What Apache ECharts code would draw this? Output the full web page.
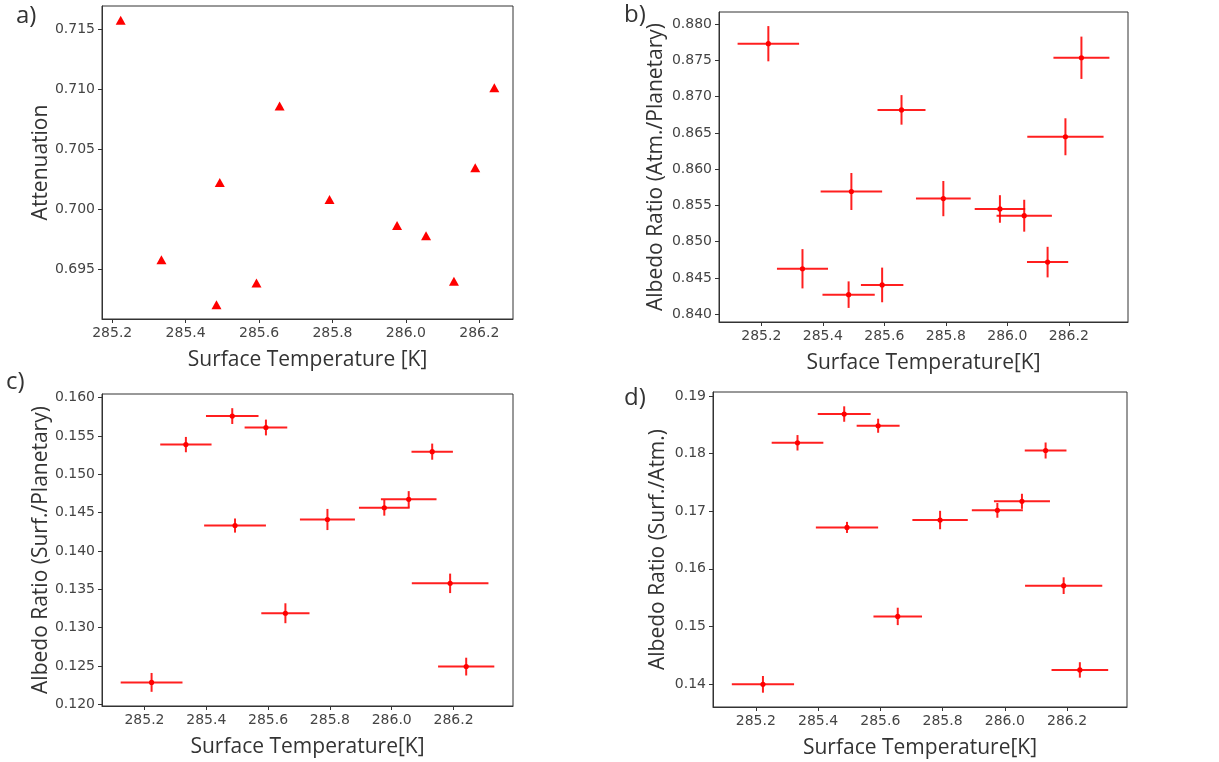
<!DOCTYPE html>
<html>
<head>
<meta charset="utf-8">
<script src="https://cdn.jsdelivr.net/npm/echarts@6.0.0/dist/echarts.min.js"></script>
<style>
html,body{margin:0;padding:0;background:#fff;}
#chart{width:1219px;height:762px;}
</style>
</head>
<body>
<div id="chart"></div>
<script>
// ---- data ----
const temps = [285.223, 285.334, 285.484, 285.493, 285.593, 285.656, 285.792, 285.976, 286.055, 286.131, 286.189, 286.241];
const tempErr = [0.100, 0.083, 0.085, 0.100, 0.069, 0.078, 0.089, 0.082, 0.090, 0.067, 0.124, 0.091];

const attenuation = [0.71575, 0.69583, 0.69208, 0.70225, 0.69389, 0.70861, 0.70083, 0.69867, 0.69783, 0.69403, 0.70347, 0.71014];

const ratioAtmPlan = [0.87731, 0.84626, 0.84269, 0.85692, 0.84403, 0.86818, 0.85594, 0.85451, 0.85358, 0.84718, 0.86447, 0.87537];
const ratioAtmPlanErr = [0.00243, 0.00271, 0.00183, 0.00255, 0.00239, 0.00204, 0.00243, 0.00190, 0.00220, 0.00211, 0.00255, 0.00292];

const ratioSurfPlan = [0.12285, 0.15387, 0.15759, 0.14331, 0.15610, 0.13187, 0.14410, 0.14563, 0.14673, 0.15295, 0.13577, 0.12491];
const ratioSurfPlanErr = [0.00123, 0.00100, 0.00103, 0.00092, 0.00103, 0.00130, 0.00138, 0.00103, 0.00107, 0.00105, 0.00127, 0.00116];

const ratioSurfAtm = [0.13994, 0.18187, 0.18686, 0.16718, 0.18483, 0.15173, 0.16846, 0.17014, 0.17171, 0.18053, 0.15707, 0.14244];
const ratioSurfAtmErr = [0.00145, 0.00134, 0.00134, 0.00096, 0.00122, 0.00151, 0.00160, 0.00128, 0.00131, 0.00139, 0.00145, 0.00134];

const xTicks = [285.2, 285.4, 285.6, 285.8, 286.0, 286.2];
const yTicksA = [0.695, 0.700, 0.705, 0.710, 0.715];
const yTicksB = [0.840, 0.845, 0.850, 0.855, 0.860, 0.865, 0.870, 0.875, 0.880];
const yTicksC = [0.120, 0.125, 0.130, 0.135, 0.140, 0.145, 0.150, 0.155, 0.160];
const yTicksD = [0.14, 0.15, 0.16, 0.17, 0.18, 0.19];

const panelLabels = ['a)', 'b)', 'c)', 'd)'];
const xTitleA = 'Surface Temperature [K]';
const xTitleBCD = 'Surface Temperature[K]';
const yTitles = ['Attenuation', 'Albedo Ratio (Atm./Planetary)', 'Albedo Ratio (Surf./Planetary)', 'Albedo Ratio (Surf./Atm.)'];

// ---- helpers ----
function padRange(lo, hi) { const m = (hi - lo) * 0.05; return [lo - m, hi + m]; }
function extent(vals, errs) {
  let lo = Infinity, hi = -Infinity;
  vals.forEach((v, i) => { const e = errs ? errs[i] : 0; lo = Math.min(lo, v - e); hi = Math.max(hi, v + e); });
  return padRange(lo, hi);
}

const tickColor = '#333';
const labelFont = { fontFamily: 'DejaVu Sans', fontSize: 14, color: '#444' };
const titleFont = { fontFamily: 'Open Sans', fontSize: 21, color: '#333' };

function xAxis(gi, range, name) {
  return {
    type: 'value', gridIndex: gi, min: range[0], max: range[1],
    name: name, nameLocation: 'middle', nameGap: 31, nameTextStyle: titleFont,
    axisLine: { show: true, onZero: false, lineStyle: { color: tickColor, width: 1 } },
    axisTick: { show: true, length: 4, inside: false, customValues: xTicks, lineStyle: { color: tickColor } },
    axisLabel: Object.assign({ margin: 7, customValues: xTicks, formatter: v => v.toFixed(1) }, labelFont),
    splitLine: { show: false }
  };
}
function yAxis(gi, range, ticks, dec, name, gap) {
  return {
    type: 'value', gridIndex: gi, min: range[0], max: range[1],
    name: name, nameLocation: 'middle', nameGap: gap, nameTextStyle: titleFont,
    axisLine: { show: true, onZero: false, lineStyle: { color: tickColor, width: 1 } },
    axisTick: { show: true, length: 4, inside: false, customValues: ticks, lineStyle: { color: tickColor } },
    axisLabel: Object.assign({ margin: 7, customValues: ticks, formatter: v => v.toFixed(dec) }, labelFont),
    splitLine: { show: false }
  };
}

function errSeries(gi, ys, yerrs) {
  const data = temps.map((t, i) => [t, ys[i], tempErr[i], yerrs[i]]);
  return {
    type: 'custom', xAxisIndex: gi, yAxisIndex: gi, data: data,
    encode: { x: 0, y: 1 },
    renderItem: function (params, api) {
      const x = api.value(0), y = api.value(1), xe = api.value(2), ye = api.value(3);
      const l = api.coord([x - xe, y]), r = api.coord([x + xe, y]);
      const t = api.coord([x, y + ye]), b = api.coord([x, y - ye]);
      const c = api.coord([x, y]);
      const st = { stroke: 'rgba(255,0,0,0.88)', lineWidth: 2 };
      return {
        type: 'group',
        children: [
          { type: 'line', shape: { x1: l[0], y1: l[1], x2: r[0], y2: r[1] }, style: st },
          { type: 'line', shape: { x1: t[0], y1: t[1], x2: b[0], y2: b[1] }, style: st },
          { type: 'circle', shape: { cx: c[0], cy: c[1], r: 2.6 }, style: { fill: '#ff0000' } }
        ]
      };
    }
  };
}

const grids = [
  { left: 102, top: 6, width: 411, height: 313 },
  { left: 719, top: 12, width: 409, height: 310 },
  { left: 102, top: 394, width: 411, height: 312 },
  { left: 713, top: 392, width: 414, height: 315 }
].map(g => Object.assign({ show: true, borderColor: tickColor, borderWidth: 1, backgroundColor: 'transparent' }, g));

const xA = extent(temps);
const xE = extent(temps, tempErr);

const option = {
  animation: false,
  backgroundColor: '#fff',
  grid: grids,
  xAxis: [
    xAxis(0, xA, xTitleA),
    xAxis(1, xE, xTitleBCD),
    xAxis(2, xE, xTitleBCD),
    xAxis(3, xE, xTitleBCD)
  ],
  yAxis: [
    yAxis(0, extent(attenuation), yTicksA, 3, yTitles[0], 50),
    yAxis(1, extent(ratioAtmPlan, ratioAtmPlanErr), yTicksB, 3, yTitles[1], 52),
    yAxis(2, extent(ratioSurfPlan, ratioSurfPlanErr), yTicksC, 3, yTitles[2], 50),
    yAxis(3, extent(ratioSurfAtm, ratioSurfAtmErr), yTicksD, 2, yTitles[3], 44)
  ],
  graphic: [
    { type: 'text', left: 16, top: 4, style: { text: panelLabels[0], font: '24px "Open Sans"', fill: '#333' } },
    { type: 'text', left: 624, top: 3, style: { text: panelLabels[1], font: '24px "Open Sans"', fill: '#333' } },
    { type: 'text', left: 6, top: 370, style: { text: panelLabels[2], font: '24px "Open Sans"', fill: '#333' } },
    { type: 'text', left: 624, top: 386, style: { text: panelLabels[3], font: '24px "Open Sans"', fill: '#333' } }
  ],
  series: [
    {
      type: 'scatter', xAxisIndex: 0, yAxisIndex: 0,
      data: temps.map((t, i) => [t, attenuation[i]]),
      symbol: 'triangle', symbolSize: [10, 9],
      itemStyle: { color: '#ff0000', opacity: 1 }
    },
    errSeries(1, ratioAtmPlan, ratioAtmPlanErr),
    errSeries(2, ratioSurfPlan, ratioSurfPlanErr),
    errSeries(3, ratioSurfAtm, ratioSurfAtmErr)
  ]
};

const chart = echarts.init(document.getElementById('chart'), null, { renderer: 'canvas' });
chart.setOption(option);
</script>
</body>
</html>
